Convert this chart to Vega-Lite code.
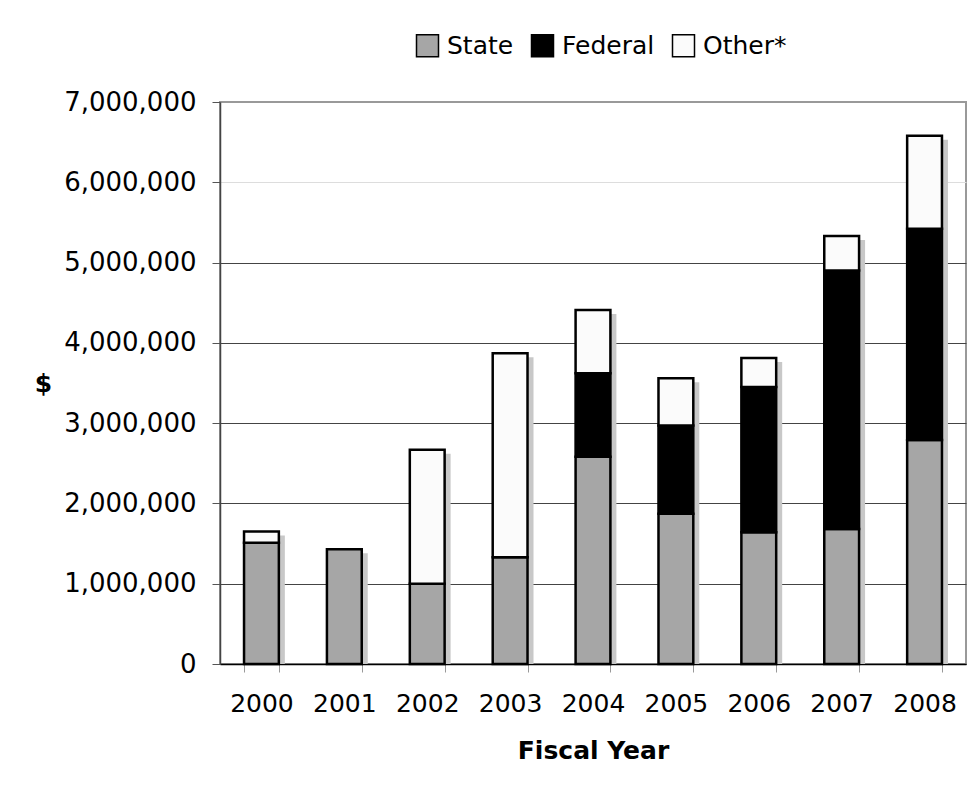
{
  "$schema": "https://vega.github.io/schema/vega-lite/v6.json",
  "width": 746,
  "height": 562,
  "autosize": {"type": "none"},
  "padding": {"left": 220, "top": 102, "right": 10, "bottom": 123},
  "background": "white",
  "data": {
    "values": [
      {"year": "2000", "source": "State", "rank": 1, "amount": 1510000},
      {"year": "2000", "source": "Other*", "rank": 3, "amount": 140000},
      {"year": "2001", "source": "State", "rank": 1, "amount": 1430000},
      {"year": "2002", "source": "State", "rank": 1, "amount": 1000000},
      {"year": "2002", "source": "Other*", "rank": 3, "amount": 1670000},
      {"year": "2003", "source": "State", "rank": 1, "amount": 1330000},
      {"year": "2003", "source": "Other*", "rank": 3, "amount": 2540000},
      {"year": "2004", "source": "State", "rank": 1, "amount": 2580000},
      {"year": "2004", "source": "Federal", "rank": 2, "amount": 1040000},
      {"year": "2004", "source": "Other*", "rank": 3, "amount": 790000},
      {"year": "2005", "source": "State", "rank": 1, "amount": 1870000},
      {"year": "2005", "source": "Federal", "rank": 2, "amount": 1100000},
      {"year": "2005", "source": "Other*", "rank": 3, "amount": 590000},
      {"year": "2006", "source": "State", "rank": 1, "amount": 1640000},
      {"year": "2006", "source": "Federal", "rank": 2, "amount": 1810000},
      {"year": "2006", "source": "Other*", "rank": 3, "amount": 360000},
      {"year": "2007", "source": "State", "rank": 1, "amount": 1680000},
      {"year": "2007", "source": "Federal", "rank": 2, "amount": 3220000},
      {"year": "2007", "source": "Other*", "rank": 3, "amount": 430000},
      {"year": "2008", "source": "State", "rank": 1, "amount": 2790000},
      {"year": "2008", "source": "Federal", "rank": 2, "amount": 2630000},
      {"year": "2008", "source": "Other*", "rank": 3, "amount": 1160000}
    ]
  },
  "encoding": {
    "x": {
      "field": "year",
      "type": "ordinal",
      "scale": {"paddingInner": 0.58, "paddingOuter": 0.29},
      "axis": {
        "title": "Fiscal Year",
        "labelAngle": 0,
        "labelFontSize": 25,
        "labelColor": "black",
        "labelPadding": 19,
        "tickBand": "extent",
        "tickSize": 8,
        "tickColor": "#999",
        "domainColor": "black",
        "domainWidth": 1.5,
        "titleFontSize": 25,
        "titleFontWeight": "bold",
        "titleColor": "black",
        "titlePadding": 22
      }
    }
  },
  "layer": [
    {
      "mark": {"type": "bar", "color": "#c8c8c8", "xOffset": 6, "yOffset": 4, "clip": true},
      "encoding": {
        "y": {"aggregate": "sum", "field": "amount", "type": "quantitative", "scale": {"domain": [0, 7000000], "nice": false}}
      }
    },
    {
      "mark": {"type": "bar", "stroke": "black", "strokeWidth": 2.5, "opacity": 1},
      "encoding": {
        "y": {
          "field": "amount",
          "type": "quantitative",
          "stack": "zero",
          "scale": {"domain": [0, 7000000], "nice": false},
          "axis": {
            "title": "$",
            "titleAngle": 0,
            "titleX": -177,
            "titleY": 281,
            "titleAlign": "center",
            "titleBaseline": "middle",
            "titleFontSize": 25,
            "titleFontWeight": "bold",
            "titleColor": "black",
            "values": [0, 1000000, 2000000, 3000000, 4000000, 5000000, 6000000, 7000000],
            "format": ",d",
            "labelFontSize": 26,
            "labelColor": "black",
            "labelPadding": 16,
            "tickSize": 8,
            "tickColor": "#555",
            "domainColor": "#444",
            "domainWidth": 1.5,
            "grid": true,
            "gridWidth": 1,
            "gridColor": {
              "condition": [
                {"test": "datum.value === 6000000", "value": "#dddddd"},
                {"test": "datum.value === 7000000", "value": "#999999"}
              ],
              "value": "#444444"
            }
          }
        },
        "color": {
          "field": "source",
          "type": "nominal",
          "scale": {"domain": ["State", "Federal", "Other*"], "range": ["#a6a6a6", "#000000", "#fbfbfb"]},
          "legend": {
            "title": null,
            "orient": "none",
            "direction": "horizontal",
            "legendX": 195,
            "legendY": -69,
            "symbolType": "square",
            "symbolSize": 484,
            "symbolStrokeColor": "black",
            "symbolStrokeWidth": 1.5,
            "symbolOpacity": 1,
            "labelFontSize": 25,
            "labelColor": "black",
            "labelOffset": 7,
            "columnPadding": 14
          }
        },
        "order": {"field": "rank", "type": "quantitative"}
      }
    }
  ],
  "config": {
    "font": "DejaVu Sans",
    "view": {"stroke": "#999999", "strokeWidth": 2}
  }
}
